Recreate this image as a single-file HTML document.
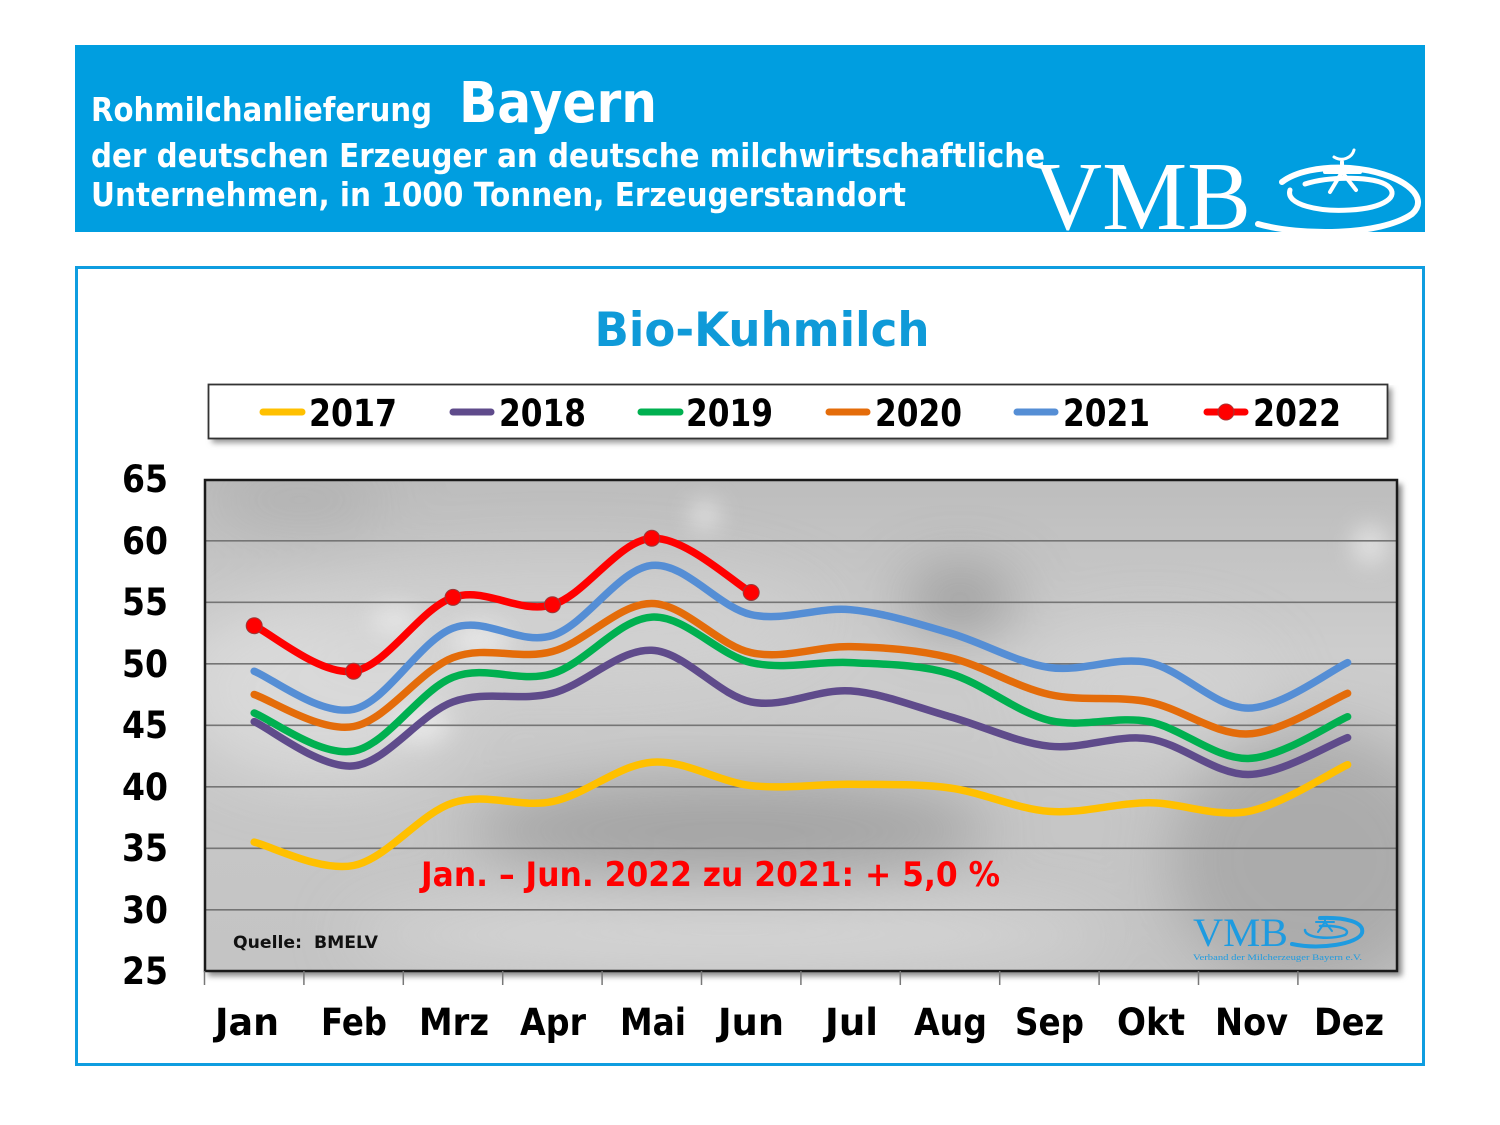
<!DOCTYPE html>
<html><head><meta charset="utf-8">
<style>
html,body{margin:0;padding:0;background:#fff;}
svg{display:block;}
text{font-family:"DejaVu Sans","Liberation Sans",sans-serif;font-weight:bold;}
.serif{font-family:"Liberation Serif","DejaVu Serif",serif;font-weight:normal;}
</style></head>
<body>
<svg id="s" width="1500" height="1125" viewBox="0 0 1500 1125" xmlns="http://www.w3.org/2000/svg">
<defs>
  <filter id="blur30" x="-50%" y="-50%" width="200%" height="200%"><feGaussianBlur stdDeviation="30"/></filter>
  <filter id="blur12" x="-50%" y="-50%" width="200%" height="200%"><feGaussianBlur stdDeviation="12"/></filter>
  <filter id="sh" x="-5%" y="-5%" width="115%" height="130%"><feGaussianBlur stdDeviation="3"/></filter>
  <linearGradient id="bg" x1="0" y1="0" x2="0" y2="1">
    <stop offset="0" stop-color="#bdbdbd"/>
    <stop offset="0.35" stop-color="#cdcdcd"/>
    <stop offset="0.7" stop-color="#c6c6c6"/>
    <stop offset="1" stop-color="#c4c4c4"/>
  </linearGradient>
  <clipPath id="plotclip"><rect x="205" y="480" width="1192" height="491"/></clipPath>
</defs>

<rect width="1500" height="1125" fill="#fff"/>

<!-- Header band -->
<rect x="75" y="45" width="1350" height="187" fill="#009EE0"/>
<text x="91" y="121" font-size="33" fill="#fff" textLength="341" lengthAdjust="spacingAndGlyphs">Rohmilchanlieferung</text>
<text x="459" y="122" font-size="56" fill="#fff" textLength="198" lengthAdjust="spacingAndGlyphs">Bayern</text>
<text x="91" y="167" font-size="33" fill="#fff" textLength="954" lengthAdjust="spacingAndGlyphs">der deutschen Erzeuger an deutsche milchwirtschaftliche</text>
<text x="91" y="206" font-size="33" fill="#fff" textLength="815" lengthAdjust="spacingAndGlyphs">Unternehmen, in 1000 Tonnen, Erzeugerstandort</text>
<!-- VMB logo -->
<text class="serif" x="1033" y="229" font-size="98" fill="#fff" textLength="218" lengthAdjust="spacingAndGlyphs">VMB</text>
<g fill="none" stroke="#fff" stroke-linecap="round">
  <path d="M1258 224 C1300 236 1380 236 1412 214 C1432 196 1400 172 1350 168 C1320 166 1295 172 1282 182" stroke-width="6"/>
  <path d="M1290 190 C1285 205 1320 212 1350 210 C1385 208 1400 196 1388 186 C1375 176 1330 176 1305 184" stroke-width="5"/>
  <path d="M1325 172 L1360 172 M1342 162 L1342 172 M1342 172 L1330 192 M1342 172 L1356 190" stroke-width="4"/>
  <path d="M1334 157 C1342 162 1352 158 1354 150" stroke-width="3"/>
</g>

<!-- Chart frame -->
<rect x="76.5" y="267.5" width="1347" height="797" fill="#fff" stroke="#0E9DE0" stroke-width="3"/>

<text x="762" y="346" font-size="47" fill="#0F9AD8" text-anchor="middle" textLength="335" lengthAdjust="spacingAndGlyphs">Bio-Kuhmilch</text>

<!-- Legend -->
<rect x="212" y="388" width="1180" height="55" fill="#9a9a9a" filter="url(#sh)"/>
<rect x="208.5" y="384.5" width="1179" height="54" fill="#fff" stroke="#333" stroke-width="1.8"/>
<g stroke-width="7" stroke-linecap="round">
  <line x1="263" y1="412" x2="302" y2="412" stroke="#FFC000"/>
  <line x1="453" y1="412" x2="491" y2="412" stroke="#5F4B8B"/>
  <line x1="641" y1="412" x2="680" y2="412" stroke="#00B050"/>
  <line x1="829" y1="412" x2="867" y2="412" stroke="#E46C0A"/>
  <line x1="1017" y1="412" x2="1055" y2="412" stroke="#558ED5"/>
  <line x1="1207" y1="412" x2="1245" y2="412" stroke="#FF0000"/>
</g>
<circle cx="1226" cy="412" r="8" fill="#FF0000" stroke="#a33" stroke-width="1"/>
<g font-size="37" fill="#000">
  <text x="309" y="426" textLength="88" lengthAdjust="spacingAndGlyphs">2017</text>
  <text x="499" y="426" textLength="87" lengthAdjust="spacingAndGlyphs">2018</text>
  <text x="686" y="426" textLength="87" lengthAdjust="spacingAndGlyphs">2019</text>
  <text x="875" y="426" textLength="87" lengthAdjust="spacingAndGlyphs">2020</text>
  <text x="1063" y="426" textLength="87" lengthAdjust="spacingAndGlyphs">2021</text>
  <text x="1253" y="426" textLength="88" lengthAdjust="spacingAndGlyphs">2022</text>
</g>

<!-- Plot shadow -->
<rect x="208" y="484" width="1194" height="492" fill="#888" filter="url(#sh)"/>
<!-- Plot background -->
<g clip-path="url(#plotclip)">
  <rect x="205" y="480" width="1192" height="491" fill="url(#bg)"/>
  <g filter="url(#blur30)">
    <ellipse cx="320" cy="690" rx="140" ry="90" fill="#dcdcdc" opacity="0.8"/>
    <ellipse cx="730" cy="830" rx="260" ry="50" fill="#959595" opacity="0.7"/>
    <ellipse cx="730" cy="935" rx="380" ry="35" fill="#dadada" opacity="0.8"/>
    <ellipse cx="1310" cy="860" rx="140" ry="130" fill="#9c9c9c" opacity="0.65"/>
    <ellipse cx="960" cy="600" rx="55" ry="28" fill="#7d7d7d" opacity="0.7"/>
    <ellipse cx="300" cy="500" rx="90" ry="20" fill="#9a9a9a" opacity="0.5"/>
    <ellipse cx="1150" cy="690" rx="120" ry="60" fill="#d6d6d6" opacity="0.6"/>
    <ellipse cx="560" cy="620" rx="260" ry="60" fill="#d4d4d4" opacity="0.6"/>
  </g>
  <g filter="url(#blur12)" fill="#eee" opacity="0.7">
    <ellipse cx="395" cy="620" rx="25" ry="14"/>
    <ellipse cx="480" cy="640" rx="30" ry="18"/>
    <ellipse cx="420" cy="725" rx="30" ry="18"/>
    <ellipse cx="705" cy="515" rx="15" ry="15"/>
    <ellipse cx="1370" cy="545" rx="18" ry="20"/>
  </g>
</g>

<!-- Gridlines -->
<g stroke="#757575" stroke-width="1.6">
  <line x1="205" y1="540.8" x2="1397" y2="540.8"/>
  <line x1="205" y1="602.3" x2="1397" y2="602.3"/>
  <line x1="205" y1="663.8" x2="1397" y2="663.8"/>
  <line x1="205" y1="725.3" x2="1397" y2="725.3"/>
  <line x1="205" y1="786.8" x2="1397" y2="786.8"/>
  <line x1="205" y1="848.3" x2="1397" y2="848.3"/>
  <line x1="205" y1="909.8" x2="1397" y2="909.8"/>
</g>
<!-- Plot border -->
<rect x="205" y="480" width="1192" height="491" fill="none" stroke="#1a1a1a" stroke-width="2.5"/>

<!-- Ticks -->
<g stroke="#777" stroke-width="1.5">
  <line x1="204.5" y1="971" x2="204.5" y2="985"/>
  <line x1="303.9" y1="971" x2="303.9" y2="985"/>
  <line x1="403.3" y1="971" x2="403.3" y2="985"/>
  <line x1="502.7" y1="971" x2="502.7" y2="985"/>
  <line x1="602.1" y1="971" x2="602.1" y2="985"/>
  <line x1="701.5" y1="971" x2="701.5" y2="985"/>
  <line x1="800.9" y1="971" x2="800.9" y2="985"/>
  <line x1="900.3" y1="971" x2="900.3" y2="985"/>
  <line x1="999.7" y1="971" x2="999.7" y2="985"/>
  <line x1="1099.1" y1="971" x2="1099.1" y2="985"/>
  <line x1="1198.5" y1="971" x2="1198.5" y2="985"/>
  <line x1="1297.9" y1="971" x2="1297.9" y2="985"/>
</g>

<!-- Annotation texts inside plot -->
<text x="421" y="886" font-size="34" fill="#FF0000" textLength="579" lengthAdjust="spacingAndGlyphs">Jan. – Jun. 2022 zu 2021: + 5,0 %</text>
<text x="233" y="948" font-size="17" fill="#111" textLength="145" lengthAdjust="spacingAndGlyphs">Quelle:&#160; BMELV</text>

<!-- small VMB logo -->
<text class="serif" x="1193" y="946" font-size="40" fill="#1E9BE0" textLength="95" lengthAdjust="spacingAndGlyphs">VMB</text>
<g fill="none" stroke="#1E9BE0" stroke-linecap="round">
  <path d="M1292 944 C1320 950 1358 944 1362 933 C1365 922 1345 917 1320 918" stroke-width="4"/>
  <path d="M1305 930 C1305 938 1330 940 1345 935 C1352 930 1340 925 1320 926" stroke-width="2.5"/>
  <path d="M1316 922 L1334 922 M1325 917 L1325 922 L1318 932 M1325 922 L1332 931" stroke-width="2"/>
</g>
<text class="serif" x="1193" y="960" font-size="8" fill="#1E9BE0" textLength="169" lengthAdjust="spacingAndGlyphs">Verband der Milcherzeuger Bayern e.V.</text>

<!-- Series -->
<g id="series" fill="none" stroke-width="7.5" stroke-linecap="round" stroke-linejoin="round">
  <path id="p2017" stroke="#FFC000" transform="matrix(99.4 0 0 -12.3 254.2 1278.8)" vector-effect="non-scaling-stroke" d="M0 35.5 L1 33.6 L2 38.7 L3 38.8 L4 42.0 L5 40.1 L6 40.2 L7 39.9 L8 38.0 L9 38.7 L10 38.0 L11 41.8"/>
  <path id="p2018" stroke="#5F4B8B" transform="matrix(99.4 0 0 -12.3 254.2 1278.8)" vector-effect="non-scaling-stroke" d="M0 45.3 L1 41.7 L2 46.9 L3 47.6 L4 51.1 L5 46.9 L6 47.8 L7 45.7 L8 43.3 L9 43.9 L10 41.0 L11 44.0"/>
  <path id="p2019" stroke="#00B050" transform="matrix(99.4 0 0 -12.3 254.2 1278.8)" vector-effect="non-scaling-stroke" d="M0 46.0 L1 42.9 L2 48.9 L3 49.2 L4 53.8 L5 50.1 L6 50.1 L7 49.2 L8 45.4 L9 45.3 L10 42.3 L11 45.7"/>
  <path id="p2020" stroke="#E46C0A" transform="matrix(99.4 0 0 -12.3 254.2 1278.8)" vector-effect="non-scaling-stroke" d="M0 47.5 L1 44.9 L2 50.5 L3 51.0 L4 54.9 L5 50.9 L6 51.4 L7 50.5 L8 47.5 L9 46.9 L10 44.3 L11 47.6"/>
  <path id="p2021" stroke="#558ED5" transform="matrix(99.4 0 0 -12.3 254.2 1278.8)" vector-effect="non-scaling-stroke" d="M0 49.4 L1 46.3 L2 52.9 L3 52.3 L4 58.0 L5 54.0 L6 54.4 L7 52.5 L8 49.7 L9 50.1 L10 46.4 L11 50.1"/>
  <path id="p2022" stroke="#FF0000" transform="matrix(99.4 0 0 -12.3 254.2 1278.8)" vector-effect="non-scaling-stroke" d="M0 53.1 L1 49.4 L2 55.4 L3 54.8 L4 60.2 L5 55.8"/>
</g>
<g fill="#FF0000" stroke="#9a3a3a" stroke-width="1">
  <circle cx="254.2" cy="625.7" r="8"/>
  <circle cx="353.6" cy="671.2" r="8"/>
  <circle cx="453.0" cy="597.4" r="8"/>
  <circle cx="552.4" cy="604.8" r="8"/>
  <circle cx="651.8" cy="538.3" r="8"/>
  <circle cx="751.2" cy="592.5" r="8"/>
</g>

<!-- Y axis labels -->
<g font-size="37" fill="#000" text-anchor="end">
  <text x="168" y="492" textLength="46" lengthAdjust="spacingAndGlyphs">65</text>
  <text x="168" y="554" textLength="46" lengthAdjust="spacingAndGlyphs">60</text>
  <text x="168" y="615" textLength="46" lengthAdjust="spacingAndGlyphs">55</text>
  <text x="168" y="677" textLength="46" lengthAdjust="spacingAndGlyphs">50</text>
  <text x="168" y="738" textLength="46" lengthAdjust="spacingAndGlyphs">45</text>
  <text x="168" y="800" textLength="46" lengthAdjust="spacingAndGlyphs">40</text>
  <text x="168" y="861" textLength="46" lengthAdjust="spacingAndGlyphs">35</text>
  <text x="168" y="923" textLength="46" lengthAdjust="spacingAndGlyphs">30</text>
  <text x="168" y="984" textLength="46" lengthAdjust="spacingAndGlyphs">25</text>
</g>

<!-- X axis labels -->
<g font-size="37" fill="#000" text-anchor="middle">
  <text x="247" y="1035" textLength="64" lengthAdjust="spacingAndGlyphs">Jan</text>
  <text x="354" y="1035" textLength="66" lengthAdjust="spacingAndGlyphs">Feb</text>
  <text x="454" y="1035" textLength="70" lengthAdjust="spacingAndGlyphs">Mrz</text>
  <text x="553" y="1035" textLength="66" lengthAdjust="spacingAndGlyphs">Apr</text>
  <text x="653" y="1035" textLength="66" lengthAdjust="spacingAndGlyphs">Mai</text>
  <text x="751" y="1035" textLength="66" lengthAdjust="spacingAndGlyphs">Jun</text>
  <text x="851.5" y="1035" textLength="53" lengthAdjust="spacingAndGlyphs">Jul</text>
  <text x="950.5" y="1035" textLength="73" lengthAdjust="spacingAndGlyphs">Aug</text>
  <text x="1049.5" y="1035" textLength="69" lengthAdjust="spacingAndGlyphs">Sep</text>
  <text x="1151" y="1035" textLength="68" lengthAdjust="spacingAndGlyphs">Okt</text>
  <text x="1251.5" y="1035" textLength="73" lengthAdjust="spacingAndGlyphs">Nov</text>
  <text x="1349" y="1035" textLength="70" lengthAdjust="spacingAndGlyphs">Dez</text>
</g>
</svg>
<script>
(function(){
  var data={
    p2017:[35.5,33.6,38.7,38.8,42.0,40.1,40.2,39.9,38.0,38.7,38.0,41.8],
    p2018:[45.3,41.7,46.9,47.6,51.1,46.9,47.8,45.7,43.3,43.9,41.0,44.0],
    p2019:[46.0,42.9,48.9,49.2,53.8,50.1,50.1,49.2,45.4,45.3,42.3,45.7],
    p2020:[47.5,44.9,50.5,51.0,54.9,50.9,51.4,50.5,47.5,46.9,44.3,47.6],
    p2021:[49.4,46.3,52.9,52.3,58.0,54.0,54.4,52.5,49.7,50.1,46.4,50.1],
    p2022:[53.1,49.4,55.4,54.8,60.2,55.8]
  };
  function X(i){return 254.2+99.4*i;}
  function Y(v){return 1278.8-12.3*v;}
  for(var k in data){
    var v=data[k],pts=[];
    for(var i=0;i<v.length;i++)pts.push([X(i),Y(v[i])]);
    var n=pts.length,d="M"+pts[0][0].toFixed(1)+" "+pts[0][1].toFixed(1);
    for(var i=0;i<n-1;i++){
      var p0=pts[Math.max(i-1,0)],p1=pts[i],p2=pts[i+1],p3=pts[Math.min(i+2,n-1)];
      var c1x=p1[0]+(p2[0]-p0[0])/6,c1y=p1[1]+(p2[1]-p0[1])/6;
      var c2x=p2[0]-(p3[0]-p1[0])/6,c2y=p2[1]-(p3[1]-p1[1])/6;
      d+=" C"+c1x.toFixed(1)+" "+c1y.toFixed(1)+" "+c2x.toFixed(1)+" "+c2y.toFixed(1)+" "+p2[0].toFixed(1)+" "+p2[1].toFixed(1);
    }
    var el=document.getElementById(k);
    el.removeAttribute("transform");
    el.removeAttribute("vector-effect");
    el.setAttribute("d",d);
  }
})();
</script>
</body></html>
